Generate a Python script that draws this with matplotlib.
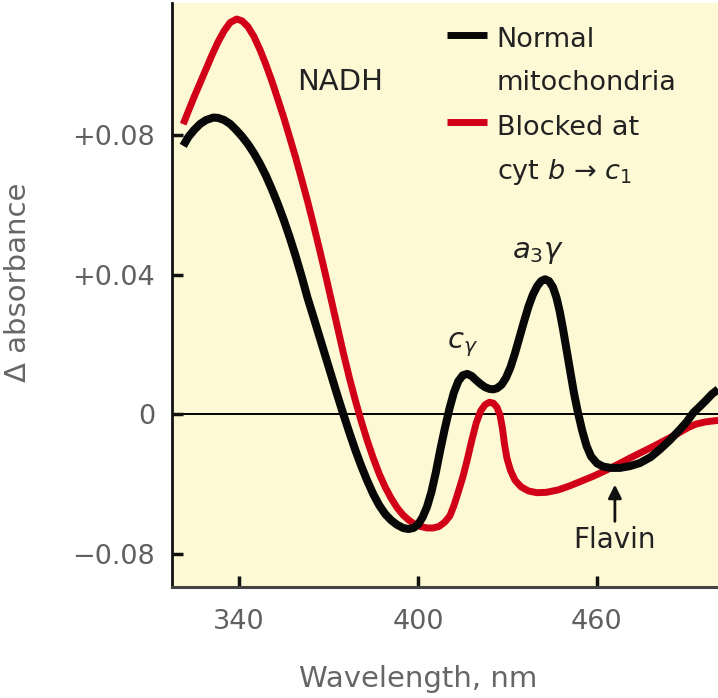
import matplotlib
matplotlib.use("Agg")
import matplotlib.pyplot as plt

plt.rcParams['font.family'] = ['DejaVu Sans']
plt.rcParams['mathtext.fontset'] = 'dejavusans'

# wavelength (nm) and delta absorbance
black_wl = [321.3, 323, 325, 327, 329, 331.4, 333, 335, 337, 339, 341, 343, 345, 347,
            349, 351, 353, 355, 357, 359, 361, 363, 365, 367, 369, 371, 373, 375, 377,
            379, 381, 383, 385, 387, 389, 391, 393, 395, 396.8, 398.5, 400, 401.5, 403,
            404.5, 406, 407.5, 409, 410.5, 412, 413.5, 415, 416.5, 418, 419.5, 421,
            422.5, 424, 425.3, 426.5, 428, 429.5, 431, 432.5, 434, 435.5, 437, 438.5,
            440, 441.3, 442.6, 443.9, 445.2, 446.4, 447.5, 448.6, 449.7, 451, 452.2,
            453.5, 455, 456.5, 458, 460, 462, 464.5, 467.7, 471, 474.4, 478, 481.1,
            484.5, 487.8, 490, 492.3, 494.5, 496.5, 498.5, 500.6]
black_abs = [0.0769, 0.0794, 0.0815, 0.0832, 0.0843, 0.0850, 0.0849, 0.0843, 0.0832,
             0.0815, 0.0796, 0.0774, 0.0748, 0.0718, 0.0684, 0.0645, 0.0603, 0.0557,
             0.0507, 0.0453, 0.0395, 0.0333, 0.0278, 0.0222, 0.0166, 0.0110, 0.0054,
             0.0, -0.0052, -0.0102, -0.0148, -0.0190, -0.0228, -0.0260, -0.0285,
             -0.0303, -0.0316, -0.0325, -0.0328, -0.0325, -0.0315, -0.0295, -0.0265,
             -0.0222, -0.0165, -0.0100, -0.0040, 0.0015, 0.0062, 0.0095, 0.0112,
             0.0116, 0.0110, 0.0098, 0.0087, 0.0078, 0.0073, 0.0072, 0.0075, 0.0085,
             0.0105, 0.0135, 0.0175, 0.0220, 0.0265, 0.0308, 0.0343, 0.0368, 0.0382,
             0.0387, 0.0382, 0.0365, 0.0335, 0.0295, 0.0245, 0.0190, 0.0125, 0.0065,
             0.0010, -0.0045, -0.0090, -0.0120, -0.0140, -0.0149, -0.0153, -0.0153,
             -0.0148, -0.0139, -0.0122, -0.0100, -0.0073, -0.0043, -0.0022, 0.0005,
             0.0023, 0.0040, 0.0058, 0.0072]

red_wl = [321.3, 323, 325, 327, 329, 331, 333, 335, 337, 339.2, 341, 343, 345, 347,
          349, 351, 353, 355, 357, 359, 361, 363, 365, 367, 369, 371, 373, 375, 377,
          379, 381, 383, 385, 387, 389, 391, 393, 395, 397, 399, 401, 403, 405, 407,
          409, 410.7, 412, 413.5, 415, 416.5, 418, 419.5, 421, 422.5, 424, 425.3,
          426.5, 427.5, 428.3, 429, 429.8, 431, 432.5, 434.5, 437, 439.8, 443, 447,
          451, 455, 459, 463, 467, 471, 475, 479, 483, 487, 490, 493, 496, 498.5, 500.6]
red_abs = [0.0831, 0.0868, 0.0910, 0.0950, 0.0990, 0.1030, 0.1067, 0.1098, 0.1122,
           0.1132, 0.1127, 0.1110, 0.1082, 0.1045, 0.1002, 0.0955, 0.0903, 0.0850,
           0.0793, 0.0735, 0.0673, 0.0610, 0.0542, 0.0472, 0.0400, 0.0325, 0.0250,
           0.0175, 0.0105, 0.0040, -0.0020, -0.0075, -0.0125, -0.0170, -0.0208,
           -0.0240, -0.0267, -0.0288, -0.0303, -0.0315, -0.0321, -0.0325, -0.0325,
           -0.0321, -0.0308, -0.0290, -0.0262, -0.0222, -0.0180, -0.0130, -0.0075,
           -0.0025, 0.0010, 0.0028, 0.0035, 0.0032, 0.0020, -0.0002, -0.0040, -0.0085,
           -0.0125, -0.0160, -0.0188, -0.0207, -0.0219, -0.0224, -0.0223, -0.0216,
           -0.0204, -0.0190, -0.0176, -0.0160, -0.0143, -0.0125, -0.0108, -0.0091,
           -0.0073, -0.0055, -0.0040, -0.0028, -0.0022, -0.0019, -0.0017]

x_ticks = [340, 400, 460]
y_ticks = [0.08, 0.04, 0.0, -0.04]
y_tick_labels = ['+0.08', '+0.04', '0', '\u22120.08']

fig = plt.figure(figsize=(7.18, 6.98), dpi=100)
ax = fig.add_axes([172 / 718, 111 / 698, 546 / 718, 584 / 698])
ax.set_facecolor('#fdf9d4')

ax.axhline(0, color='black', lw=1.4, zorder=1)
ax.plot(red_wl, red_abs, color='#d10018', lw=5, solid_capstyle='butt',
        solid_joinstyle='round', zorder=2)
ax.plot(black_wl, black_abs, color='#080808', lw=5.8, solid_capstyle='butt',
        solid_joinstyle='round', zorder=3)

ax.set_xlim(317.54, 500.56)
ax.set_ylim(-0.0494, 0.1178)
ax.set_xticks(x_ticks)
ax.set_xticklabels([str(t) for t in x_ticks])
ax.set_yticks(y_ticks)
ax.set_yticklabels(y_tick_labels)

for s in ['top', 'right']:
    ax.spines[s].set_visible(False)
ax.spines['left'].set_color('#111111')
ax.spines['left'].set_linewidth(2)
ax.spines['bottom'].set_color('#444444')
ax.spines['bottom'].set_linewidth(2.2)
ax.tick_params(axis='both', direction='in', length=8, width=2.5, color='#111111',
               labelsize=19.5, labelcolor='#606060')
ax.tick_params(axis='y', pad=12)
ax.tick_params(axis='x', pad=16)

fig.text(18 / 718, 1 - 282 / 698, '\u0394 absorbance', rotation=90, ha='center',
         va='center', fontsize=21, color='#666666')
fig.text(418 / 718, 1 - 679 / 698, 'Wavelength, nm', ha='center', va='center',
         fontsize=21, color='#666666')

# legend keys
ax.plot([0.504, 0.577], [0.945, 0.945], transform=ax.transAxes, color='#080808',
        lw=5, solid_capstyle='butt')
ax.plot([0.504, 0.577], [0.796, 0.796], transform=ax.transAxes, color='#d10018',
        lw=5, solid_capstyle='butt')
txt = dict(transform=ax.transAxes, ha='left', va='center', fontsize=19.5,
           color='#222222')
ax.text(0.595, 0.937, 'Normal', **txt)
ax.text(0.595, 0.863, 'mitochondria', **txt)
ax.text(0.595, 0.786, 'Blocked at', **txt)
ax.text(0.595, 0.711, 'cyt $b$ \u2192 $c_1$', **txt)

ax.text(373.85, 0.0952, 'NADH', ha='center', va='center', fontsize=21,
        color='#222222')
ax.text(414.75, 0.0199, r'$c_\gamma$', ha='center', va='center', fontsize=21,
        color='#222222')
ax.text(440.2, 0.0465, r'$a_3\gamma$', ha='center', va='center', fontsize=21,
        color='#222222')
ax.annotate('', xy=(466.0, -0.0193), xytext=(466.0, -0.0314),
            arrowprops=dict(arrowstyle='-|>', color='#111111', lw=2,
                            mutation_scale=20))
ax.text(466.0, -0.0359, 'Flavin', ha='center', va='center', fontsize=20,
        color='#222222')

fig.savefig('out.png', dpi=100)
